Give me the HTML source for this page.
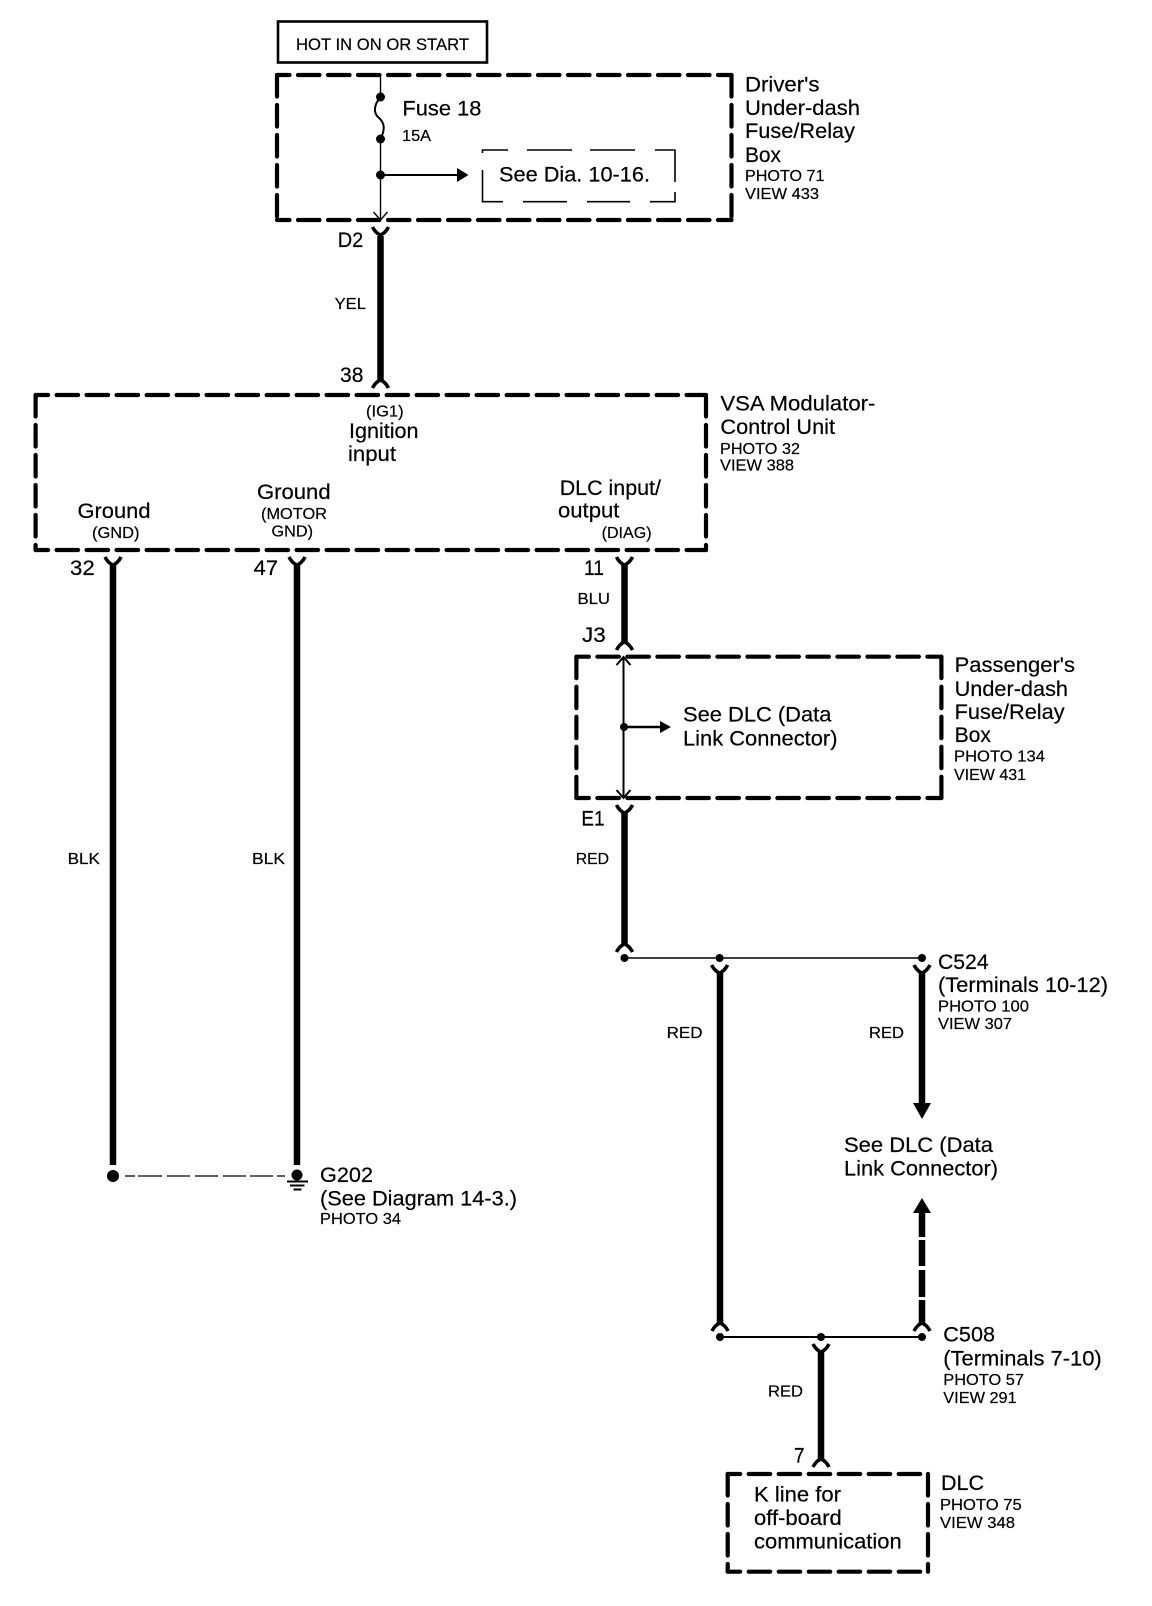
<!DOCTYPE html>
<html><head><meta charset="utf-8"><style>
html,body{margin:0;padding:0;background:#fff}
svg{display:block}
text{font-family:"Liberation Sans",sans-serif;fill:#000;stroke:#000;stroke-width:.2}
.b{font-size:21.5px}.s{font-size:16px}
.d{fill:none;stroke:#000;stroke-width:4.2;stroke-dasharray:21.5 8.5;stroke-linecap:round}
.h{stroke-dashoffset:9}
.w{stroke:#000;stroke-width:6.5;fill:none}
.t{stroke:#000;stroke-width:1.4;fill:none}
.m{stroke:#000;stroke-width:2;fill:none}
</style></head><body>
<svg xmlns="http://www.w3.org/2000/svg" width="1152" height="1606" viewBox="0 0 1152 1606">
<defs>
<path id="y" d="M-8,0 Q-5,6 0,8 Q5,6 8,0 M0,8 V12" fill="none" stroke="#000" stroke-width="3.6"/>
<path id="c" d="M-8,0 Q-5,-6 0,-8 Q5,-6 8,0 M0,-8 V-12" fill="none" stroke="#000" stroke-width="3.6"/>
</defs>
<!-- top label -->
<rect x="278" y="21.5" width="209" height="41" fill="none" stroke="#000" stroke-width="2.6"/>
<text class="s" style="font-size:17px" x="296" y="50" textLength="173" lengthAdjust="spacingAndGlyphs">HOT IN ON OR START</text>
<!-- driver's box -->
<path class="d h" d="M277,75 H731.5"/><path class="d h" d="M277,220 H731.5"/>
<path class="d" d="M277,75 V220"/><path class="d" d="M731.5,75 V220"/>
<path class="t" d="M380.5,75 V97 M380.5,139 V220 M373.5,212 L380.5,220 L387.5,212"/>
<path class="m" d="M380.5,97 C373,106 374,113 378,117 C384,122 386,128 380.5,139"/>
<circle cx="380.5" cy="97" r="4.5"/><circle cx="380.5" cy="139" r="4.5"/><circle cx="380.5" cy="175" r="4.5"/>
<path class="m" d="M380.5,175 H458"/><path d="M457,168 L468.5,175 L457,182Z"/>
<path d="M482.5,153 V150 H508 M527,150 H572 M590,150 H635 M655,150 H675 V182 M675,192 V201.7 H650 M630,201.7 H587 M567,201.7 H523 M503,201.7 H482.5 V170" fill="none" stroke="#000" stroke-width="1.6"/>
<text class="b" x="402.4" y="115.7" textLength="79" lengthAdjust="spacingAndGlyphs">Fuse 18</text>
<text class="s" x="402" y="141" textLength="29" lengthAdjust="spacingAndGlyphs">15A</text>
<text class="b" x="499" y="181.7" textLength="151" lengthAdjust="spacingAndGlyphs">See Dia. 10-16.</text>
<text class="b" x="745" y="91.7" textLength="74.5" lengthAdjust="spacingAndGlyphs">Driver's</text>
<text class="b" x="745" y="115" textLength="115" lengthAdjust="spacingAndGlyphs">Under-dash</text>
<text class="b" x="745" y="138" textLength="110" lengthAdjust="spacingAndGlyphs">Fuse/Relay</text>
<text class="b" x="745" y="162" textLength="36" lengthAdjust="spacingAndGlyphs">Box</text>
<text class="s" x="745" y="181" textLength="79.5" lengthAdjust="spacingAndGlyphs">PHOTO 71</text>
<text class="s" x="745" y="199" textLength="74" lengthAdjust="spacingAndGlyphs">VIEW 433</text>
<!-- wire D2-38 -->
<use href="#y" x="380.5" y="227"/><path class="w" d="M380.5,236 V381"/><use href="#c" x="380.5" y="388"/>
<text class="b" x="337.7" y="247" textLength="25.5" lengthAdjust="spacingAndGlyphs">D2</text>
<text class="s" x="334.6" y="309" textLength="31.4" lengthAdjust="spacingAndGlyphs">YEL</text>
<text class="b" x="340" y="382" textLength="23.4" lengthAdjust="spacingAndGlyphs">38</text>
<!-- VSA box -->
<path class="d h" d="M35.6,395 H706"/><path class="d h" d="M35.6,550 H706"/>
<path class="d" d="M35.6,395 V550"/><path class="d" d="M706,395 V550"/>
<text class="s" x="366" y="416.7" textLength="37.6" lengthAdjust="spacingAndGlyphs">(IG1)</text>
<text class="b" x="349" y="438" textLength="69.5" lengthAdjust="spacingAndGlyphs">Ignition</text>
<text class="b" x="348" y="461" textLength="48" lengthAdjust="spacingAndGlyphs">input</text>
<text class="b" x="257" y="499" textLength="73.6" lengthAdjust="spacingAndGlyphs">Ground</text>
<text class="s" x="261" y="519" textLength="66" lengthAdjust="spacingAndGlyphs">(MOTOR</text>
<text class="s" x="271.5" y="536.7" textLength="41.5" lengthAdjust="spacingAndGlyphs">GND)</text>
<text class="b" x="77.5" y="518" textLength="73" lengthAdjust="spacingAndGlyphs">Ground</text>
<text class="s" x="92" y="538" textLength="47.5" lengthAdjust="spacingAndGlyphs">(GND)</text>
<text class="b" x="559.7" y="495" textLength="101.3" lengthAdjust="spacingAndGlyphs">DLC input/</text>
<text class="b" x="558" y="517.7" textLength="61.4" lengthAdjust="spacingAndGlyphs">output</text>
<text class="s" x="601.6" y="538" textLength="50" lengthAdjust="spacingAndGlyphs">(DIAG)</text>
<text class="b" x="720.4" y="410.7" textLength="155" lengthAdjust="spacingAndGlyphs">VSA Modulator-</text>
<text class="b" x="720.4" y="434" textLength="114.6" lengthAdjust="spacingAndGlyphs">Control Unit</text>
<text class="s" x="720" y="454" textLength="80" lengthAdjust="spacingAndGlyphs">PHOTO 32</text>
<text class="s" x="720" y="470.7" textLength="74" lengthAdjust="spacingAndGlyphs">VIEW 388</text>
<!-- ground wires -->
<text class="b" x="70" y="575" textLength="24.7" lengthAdjust="spacingAndGlyphs">32</text>
<text class="b" x="253.7" y="575" textLength="24.3" lengthAdjust="spacingAndGlyphs">47</text>
<text class="b" x="584" y="575" textLength="20" lengthAdjust="spacingAndGlyphs">11</text>
<use href="#y" x="113" y="557"/><path class="w" d="M113,565 V1165"/>
<use href="#y" x="297" y="557"/><path class="w" d="M297,565 V1165"/>
<text class="s" x="67.6" y="864" textLength="32.4" lengthAdjust="spacingAndGlyphs">BLK</text>
<text class="s" x="252" y="864" textLength="33" lengthAdjust="spacingAndGlyphs">BLK</text>
<circle cx="113" cy="1176" r="6"/><circle cx="297" cy="1175" r="5.5"/>
<path d="M125,1176 H135 M138,1176 H162 M167,1176 H190 M195,1176 H218 M223,1176 H246 M250,1176 H273 M277,1176 H285" fill="none" stroke="#000" stroke-width="1.2"/>
<path d="M287,1181.5 H308 M290,1185.5 H304.5 M293.5,1189.5 H301.5" stroke="#000" stroke-width="2" fill="none"/>
<text class="b" x="320" y="1182" textLength="53" lengthAdjust="spacingAndGlyphs">G202</text>
<text class="b" x="320" y="1205.7" textLength="197" lengthAdjust="spacingAndGlyphs">(See Diagram 14-3.)</text>
<text class="s" x="320" y="1224" textLength="81" lengthAdjust="spacingAndGlyphs">PHOTO 34</text>
<!-- BLU wire -->
<use href="#y" x="624.5" y="557"/><path class="w" d="M624.5,565 V643"/><use href="#c" x="624.5" y="650"/>
<text class="s" x="577.5" y="604" textLength="32.5" lengthAdjust="spacingAndGlyphs">BLU</text>
<text class="b" x="582" y="642" textLength="23.7" lengthAdjust="spacingAndGlyphs">J3</text>
<!-- passenger box -->
<path class="d h" d="M576.4,656.7 H941.4"/><path class="d h" d="M576.4,798 H941.4"/>
<path class="d" d="M576.4,656.7 V798"/><path class="d" d="M941.4,656.7 V798"/>
<path class="t" d="M623.5,657 V798 M616.5,665 L623.5,657 L630.5,665 M616.5,790 L623.5,798 L630.5,790" style="stroke-width:2"/>
<circle cx="624" cy="727" r="4"/>
<path class="m" d="M624,727 H662" style="stroke-width:2.4"/><path d="M660,721 L671,727 L660,733Z"/>
<text class="b" x="683" y="721.7" textLength="148.4" lengthAdjust="spacingAndGlyphs">See DLC (Data</text>
<text class="b" x="683" y="745.7" textLength="154.5" lengthAdjust="spacingAndGlyphs">Link Connector)</text>
<text class="b" x="954.6" y="672" textLength="120.4" lengthAdjust="spacingAndGlyphs">Passenger's</text>
<text class="b" x="954.6" y="696" textLength="113.4" lengthAdjust="spacingAndGlyphs">Under-dash</text>
<text class="b" x="954.6" y="719" textLength="110" lengthAdjust="spacingAndGlyphs">Fuse/Relay</text>
<text class="b" x="954.6" y="742" textLength="36.4" lengthAdjust="spacingAndGlyphs">Box</text>
<text class="s" x="954" y="761.7" textLength="91" lengthAdjust="spacingAndGlyphs">PHOTO 134</text>
<text class="s" x="954" y="780" textLength="72" lengthAdjust="spacingAndGlyphs">VIEW 431</text>
<!-- E1 wire -->
<text class="b" x="581.4" y="825.7" textLength="23.2" lengthAdjust="spacingAndGlyphs">E1</text>
<use href="#y" x="624.5" y="805"/><path class="w" d="M624.5,813 V945"/><use href="#c" x="624.5" y="952"/>
<text class="s" x="575.7" y="864" textLength="33.3" lengthAdjust="spacingAndGlyphs">RED</text>
<path class="m" d="M624.5,958 H922" style="stroke-width:1.6"/>
<circle cx="624.5" cy="958" r="4"/><circle cx="719.6" cy="958" r="4"/><circle cx="922" cy="958" r="4"/>
<use href="#y" x="719.6" y="965"/><use href="#y" x="922" y="965"/>
<path class="w" d="M720,973 V1323"/>
<path class="w" d="M922,973 V1104"/><path d="M913,1103 H931 L922,1119Z"/>
<text class="s" x="666.6" y="1038" textLength="35.9" lengthAdjust="spacingAndGlyphs">RED</text>
<text class="s" x="869" y="1038" textLength="35" lengthAdjust="spacingAndGlyphs">RED</text>
<text class="b" x="938" y="969" textLength="50.6" lengthAdjust="spacingAndGlyphs">C524</text>
<text class="b" x="938" y="992" textLength="170" lengthAdjust="spacingAndGlyphs">(Terminals 10-12)</text>
<text class="s" x="938" y="1011.7" textLength="91" lengthAdjust="spacingAndGlyphs">PHOTO 100</text>
<text class="s" x="938" y="1029" textLength="74" lengthAdjust="spacingAndGlyphs">VIEW 307</text>
<text class="b" x="844" y="1152" textLength="149" lengthAdjust="spacingAndGlyphs">See DLC (Data</text>
<text class="b" x="844" y="1175.7" textLength="154" lengthAdjust="spacingAndGlyphs">Link Connector)</text>
<!-- dashed up arrow -->
<path d="M913,1213 H931 L922,1198Z"/>
<path class="w" d="M922,1212 V1237 M922,1240 V1266 M922,1270 V1297 M922,1300 V1323"/>
<use href="#c" x="720" y="1331"/><use href="#c" x="922" y="1331"/>
<path class="m" d="M720,1337 H922"/>
<circle cx="720" cy="1337" r="4"/><circle cx="821" cy="1337" r="4"/><circle cx="922" cy="1337" r="4"/>
<use href="#y" x="821" y="1344"/><path class="w" d="M821,1352 V1460"/><use href="#c" x="821" y="1467"/>
<text class="b" x="943.3" y="1341.7" textLength="51.7" lengthAdjust="spacingAndGlyphs">C508</text>
<text class="b" x="943.3" y="1365.7" textLength="158.4" lengthAdjust="spacingAndGlyphs">(Terminals 7-10)</text>
<text class="s" x="943.3" y="1385" textLength="80.7" lengthAdjust="spacingAndGlyphs">PHOTO 57</text>
<text class="s" x="943.3" y="1403" textLength="73.4" lengthAdjust="spacingAndGlyphs">VIEW 291</text>
<text class="s" x="768" y="1396.7" textLength="35" lengthAdjust="spacingAndGlyphs">RED</text>
<text class="b" x="794" y="1462.7" textLength="10.5" lengthAdjust="spacingAndGlyphs">7</text>
<!-- DLC box -->
<path class="d h" d="M727.7,1474 H928"/><path class="d h" d="M727.7,1571.7 H928"/>
<path class="d" d="M727.7,1474 V1571.7"/><path class="d" d="M928,1474 V1571.7"/>
<text class="b" x="754" y="1501.7" textLength="87" lengthAdjust="spacingAndGlyphs">K line for</text>
<text class="b" x="754" y="1525" textLength="87.7" lengthAdjust="spacingAndGlyphs">off-board</text>
<text class="b" x="754" y="1548.3" textLength="147.7" lengthAdjust="spacingAndGlyphs">communication</text>
<text class="b" x="941" y="1490" textLength="43" lengthAdjust="spacingAndGlyphs">DLC</text>
<text class="s" x="940" y="1510" textLength="81.7" lengthAdjust="spacingAndGlyphs">PHOTO 75</text>
<text class="s" x="940" y="1528" textLength="75" lengthAdjust="spacingAndGlyphs">VIEW 348</text>
</svg>
</body></html>
